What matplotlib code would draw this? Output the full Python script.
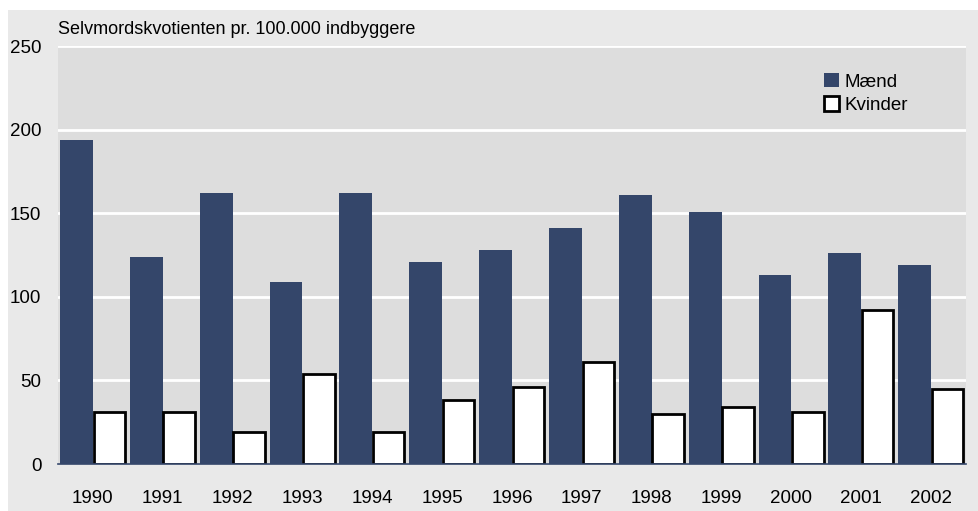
import matplotlib
matplotlib.use("Agg")
import matplotlib.pyplot as plt
from matplotlib.patches import Rectangle, Patch
import numpy as np

years = ["1990", "1991", "1992", "1993", "1994", "1995", "1996",
         "1997", "1998", "1999", "2000", "2001", "2002"]
maend = [194, 124, 162, 109, 162, 121, 128, 141, 161, 151, 113, 126, 119]
kvinder = [31, 31, 19, 54, 19, 38, 46, 61, 30, 34, 31, 92, 45]

NAVY = "#34466a"
plt.rcParams["font.family"] = ["Liberation Sans", "DejaVu Sans"]

W, H = 979, 511
fig = plt.figure(figsize=(W / 100, H / 100), dpi=100)
fig.patch.set_facecolor("white")
# outer light grey panel
fig.patches.append(Rectangle((8 / W, 0), 1 - 8 / W, 1 - 10 / H,
                             transform=fig.transFigure, facecolor="#e9e9e9",
                             edgecolor="none", zorder=-10))

ax = fig.add_axes([58 / W, (H - 464) / H, 908 / W, (464 - 46) / H])
ax.set_facecolor("#dddddd")

x = np.arange(len(years))
w = 0.47
ax.bar(x - w / 2, maend, width=w, color=NAVY, zorder=3)
ax.bar(x + w / 2, kvinder, width=w - 0.02, color="white",
       edgecolor="black", linewidth=2, zorder=3)

ax.set_xlim(-0.5, len(years) - 0.5)
ax.set_ylim(0, 250)
ax.set_yticks([0, 50, 100, 150, 200, 250])
ax.set_xticks(x)
ax.set_xticklabels(years)
ax.tick_params(axis="both", length=0, labelsize=13.5)
ax.tick_params(axis="y", pad=12)
ax.tick_params(axis="x", pad=19)
ax.yaxis.grid(True, color="white", linewidth=2, zorder=1)
ax.set_axisbelow(True)
for s in ["top", "right", "left"]:
    ax.spines[s].set_visible(False)
ax.spines["bottom"].set_color(NAVY)
ax.spines["bottom"].set_linewidth(1.2)
ax.spines["bottom"].set_zorder(4)

fig.text(58 / W, 1 - 30 / H, "Selvmordskvotienten pr. 100.000 indbyggere",
         fontsize=13, va="center", ha="left")

handles = [Patch(facecolor=NAVY, edgecolor="none", label="Mænd"),
           Patch(facecolor="white", edgecolor="black", linewidth=2, label="Kvinder")]
ax.legend(handles=handles, loc="upper left", bbox_to_anchor=(0.835, 0.953),
          frameon=False, fontsize=13.5, handlelength=0.8, handleheight=0.8,
          handletextpad=0.3, labelspacing=0.3, borderaxespad=0)

fig.savefig("out.png", dpi=100, facecolor=fig.get_facecolor())
